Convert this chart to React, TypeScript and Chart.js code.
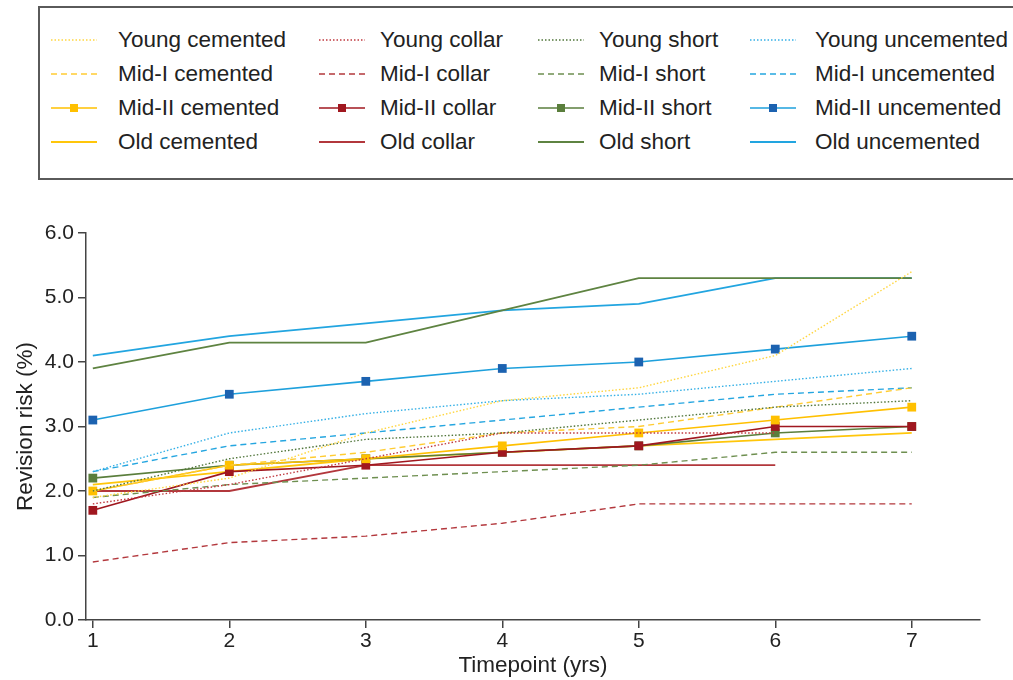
import React, { useEffect, useRef } from "react";
import { Chart, registerables } from "chart.js";

Chart.register(...registerables);

const timepoints = [1, 2, 3, 4, 5, 6, 7];
const xTickLabels = ["1", "2", "3", "4", "5", "6", "7"];
const yTickValues = [0, 1, 2, 3, 4, 5, 6];

const youngCemented = [1.9, 2.2, 2.9, 3.4, 3.6, 4.1, 5.4];
const youngCollar = [1.8, 2.1, 2.5, 2.9, 2.9, 2.9, null];
const youngShort = [2.0, 2.5, 2.8, 2.9, 3.1, 3.3, 3.4];
const youngUncemented = [2.3, 2.9, 3.2, 3.4, 3.5, 3.7, 3.9];
const midICemented = [2.0, 2.4, 2.6, 2.9, 3.0, 3.3, 3.6];
const midICollar = [0.9, 1.2, 1.3, 1.5, 1.8, 1.8, 1.8];
const midIShort = [1.9, 2.1, 2.2, 2.3, 2.4, 2.6, 2.6];
const midIUncemented = [2.3, 2.7, 2.9, 3.1, 3.3, 3.5, 3.6];
const midIICemented = [2.0, 2.4, 2.5, 2.7, 2.9, 3.1, 3.3];
const midIICollar = [1.7, 2.3, 2.4, 2.6, 2.7, 3.0, 3.0];
const midIIShort = [2.2, 2.4, 2.5, 2.6, 2.7, 2.9, 3.0];
const midIIUncemented = [3.1, 3.5, 3.7, 3.9, 4.0, 4.2, 4.4];
const oldCemented = [2.1, 2.3, 2.5, 2.6, 2.7, 2.8, 2.9];
const oldCollar = [2.0, 2.0, 2.4, 2.4, 2.4, 2.4, null];
const oldShort = [3.9, 4.3, 4.3, 4.8, 5.3, 5.3, 5.3];
const oldUncemented = [4.1, 4.4, 4.6, 4.8, 4.9, 5.3, 5.3];

type Style = "dotted" | "dashed" | "marker" | "solid";

type SeriesDef = {
  label: string;
  values: (number | null)[];
  color: string;
  markerColor?: string;
  style: Style;
};

const series: SeriesDef[] = [
  { label: "Young cemented", values: youngCemented, color: "#FFD640", style: "dotted" },
  { label: "Young collar", values: youngCollar, color: "#C0393F", style: "dotted" },
  { label: "Young short", values: youngShort, color: "#50753A", style: "dotted" },
  { label: "Young uncemented", values: youngUncemented, color: "#35B0E6", style: "dotted" },
  { label: "Mid-I cemented", values: midICemented, color: "#FFCC33", style: "dashed" },
  { label: "Mid-I collar", values: midICollar, color: "#B3383D", style: "dashed" },
  { label: "Mid-I short", values: midIShort, color: "#6E8F50", style: "dashed" },
  { label: "Mid-I uncemented", values: midIUncemented, color: "#25A6E0", style: "dashed" },
  { label: "Mid-II cemented", values: midIICemented, color: "#FFC000", markerColor: "#FFC000", style: "marker" },
  { label: "Mid-II collar", values: midIICollar, color: "#A0171F", markerColor: "#A0171F", style: "marker" },
  { label: "Mid-II short", values: midIIShort, color: "#5A7E3C", markerColor: "#5A7E3C", style: "marker" },
  { label: "Mid-II uncemented", values: midIIUncemented, color: "#1EA0DC", markerColor: "#1C62B0", style: "marker" },
  { label: "Old cemented", values: oldCemented, color: "#FFC60A", style: "solid" },
  { label: "Old collar", values: oldCollar, color: "#B2373C", style: "solid" },
  { label: "Old short", values: oldShort, color: "#5E8341", style: "solid" },
  { label: "Old uncemented", values: oldUncemented, color: "#22A5E0", style: "solid" },
];

const FONT = "'Liberation Sans', Arial, sans-serif";

function dashFor(style: Style): number[] {
  if (style === "dotted") return [1.5, 2];
  if (style === "dashed") return [6, 4];
  return [];
}

function LegendSample({ s }: { s: SeriesDef }) {
  const dash = dashFor(s.style);
  return (
    <svg width={48} height={12} style={{ display: "block" }}>
      <line
        x1={1}
        y1={6}
        x2={47}
        y2={6}
        stroke={s.color}
        strokeWidth={s.style === "solid" ? 2.2 : s.style === "marker" ? 1.6 : 1.4}
        strokeDasharray={dash.length ? dash.join(",") : undefined}
      />
      {s.style === "marker" && (
        <rect x={20} y={2} width={8} height={8} fill={s.markerColor} />
      )}
    </svg>
  );
}

const colLeft = [51, 319, 538, 750];
const colTextLeft = [118, 380, 599, 815];
const rowCenter = [40, 74, 108, 142];

export default function App() {
  const canvasRef = useRef<HTMLCanvasElement | null>(null);

  useEffect(() => {
    if (!canvasRef.current) return;
    const datasets = series.map((s) => ({
      label: s.label,
      data: timepoints.map((t, i) => ({ x: t, y: s.values[i] })),
      borderColor: s.color,
      backgroundColor: s.markerColor || s.color,
      borderWidth: s.style === "solid" ? 1.8 : s.style === "marker" ? 1.6 : 1.4,
      borderDash: dashFor(s.style),
      pointRadius: s.style === "marker" ? 6.2 : 0,
      pointHoverRadius: 0,
      pointStyle: "rect" as const,
      pointBorderWidth: 0,
      pointBackgroundColor: s.markerColor || s.color,
      pointBorderColor: s.markerColor || s.color,
      spanGaps: false,
      tension: 0,
      fill: false,
    }));
    const chart = new Chart(canvasRef.current, {
      type: "line",
      data: { datasets },
      options: {
        animation: false,
        responsive: false,
        maintainAspectRatio: false,
        layout: { padding: { top: 43, right: 33, left: 0, bottom: 0 } },
        plugins: {
          legend: { display: false },
          tooltip: { enabled: false },
        },
        scales: {
          x: {
            type: "linear",
            min: 0.95,
            max: 7.5,
            afterBuildTicks: (scale: any) => {
              scale.ticks = timepoints.map((v) => ({ value: v }));
            },
            afterFit: (scale: any) => {
              scale.height = 60;
            },
            ticks: {
              callback: (v: any) => {
                const i = timepoints.indexOf(Number(v));
                return i >= 0 ? xTickLabels[i] : "";
              },
              color: "#222",
              font: { family: FONT, size: 21 },
              padding: 1,
              maxRotation: 0,
              autoSkip: false,
            },
            grid: {
              display: true,
              drawOnChartArea: false,
              drawTicks: true,
              tickLength: 8,
              color: "#444",
              lineWidth: 1.5,
            },
            border: { display: true, color: "#444", width: 1.5 },
            title: {
              display: true,
              text: "Timepoint (yrs)",
              color: "#222",
              font: { family: FONT, size: 22.5 },
              padding: { top: 0, bottom: 1 },
            },
          },
          y: {
            type: "linear",
            min: 0,
            max: 6,
            afterBuildTicks: (scale: any) => {
              scale.ticks = yTickValues.map((v) => ({ value: v }));
            },
            afterFit: (scale: any) => {
              scale.width = 86;
            },
            ticks: {
              callback: (v: any) => Number(v).toFixed(1),
              color: "#222",
              font: { family: FONT, size: 21 },
              padding: 4,
            },
            grid: {
              display: true,
              drawOnChartArea: false,
              drawTicks: true,
              tickLength: 8,
              color: "#444",
              lineWidth: 1.5,
            },
            border: { display: true, color: "#444", width: 1.5 },
            title: {
              display: true,
              text: "Revision risk (%)",
              color: "#222",
              font: { family: FONT, size: 22.5 },
              padding: { top: 12, bottom: 0 },
            },
          },
        },
      },
    });
    return () => chart.destroy();
  }, []);

  return (
    <div
      style={{
        position: "absolute",
        left: 0,
        top: 0,
        width: 1013,
        height: 680,
        overflow: "hidden",
        background: "#fff",
        fontFamily: FONT,
      }}
    >
      <div
        style={{
          position: "absolute",
          left: 38,
          top: 6,
          width: 1000,
          height: 170,
          border: "2px solid #5a5a5a",
        }}
      />
      {series.map((s, i) => {
        const col = i % 4;
        const row = Math.floor(i / 4);
        return (
          <React.Fragment key={s.label}>
            <div
              style={{
                position: "absolute",
                left: colLeft[col] - 1,
                top: rowCenter[row] - 6,
              }}
            >
              <LegendSample s={s} />
            </div>
            <div
              style={{
                position: "absolute",
                left: colTextLeft[col],
                top: rowCenter[row] - 14,
                height: 28,
                lineHeight: "28px",
                fontSize: 22.5,
                color: "#222",
                whiteSpace: "nowrap",
              }}
            >
              {s.label}
            </div>
          </React.Fragment>
        );
      })}
      <canvas
        ref={canvasRef}
        width={1013}
        height={490}
        style={{ position: "absolute", left: 0, top: 190, width: 1013, height: 490 }}
      />
    </div>
  );
}
